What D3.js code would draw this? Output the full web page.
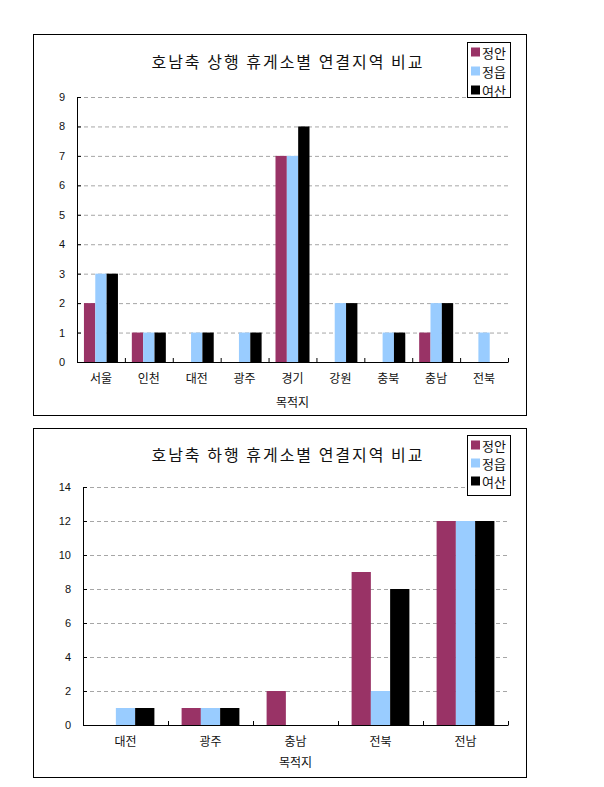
<!DOCTYPE html>
<html>
<head>
<meta charset="utf-8">
<script src="https://cdn.jsdelivr.net/npm/d3@7"></script>
<style>
  body { margin: 0; background: #fff; }
  svg { display: block; }
  text { font-family: "Noto Sans CJK KR", "Noto Sans", sans-serif; fill: #111; }
  .grid line { stroke: #a6a6a6; stroke-dasharray: 4,3; }
  .grid path { display: none; }
</style>
</head>
<body>
<svg id="chart" width="604" height="787"></svg>
<script>
// series names and colours
const seriesNames = ["정안", "정읍", "여산"];
const seriesColors = ["#993366", "#99ccff", "#000000"];

// 상행 (upper chart)
const upTitle = "호남축 상행 휴게소별 연결지역 비교";
const upCategories = ["서울", "인천", "대전", "광주", "경기", "강원", "충북", "충남", "전북"];
const upJeongan = [2, 1, 0, 0, 7, 0, 0, 1, 0];
const upJeongeup = [3, 1, 1, 1, 7, 2, 1, 2, 1];
const upYeosan = [3, 1, 1, 1, 8, 2, 1, 2, 0];
const upTicks = [0, 1, 2, 3, 4, 5, 6, 7, 8, 9];

// 하행 (lower chart)
const downTitle = "호남축 하행 휴게소별 연결지역 비교";
const downCategories = ["대전", "광주", "충남", "전북", "전남"];
const downJeongan = [0, 1, 2, 9, 12];
const downJeongeup = [1, 1, 0, 2, 12];
const downYeosan = [1, 1, 0, 8, 12];
const downTicks = [0, 2, 4, 6, 8, 10, 12, 14];

const xTitle = "목적지";

const svg = d3.select("#chart");

function drawChart(opt) {
  const g = svg.append("g");
  const box = opt.box;

  // frame
  g.append("rect")
    .attr("x", box.x + 0.5).attr("y", box.y + 0.5)
    .attr("width", box.w).attr("height", box.h)
    .attr("fill", "#fff").attr("stroke", "#000").attr("stroke-width", 1);

  const p = opt.plot;
  const rows = opt.categories.map((c, i) => ({
    cat: c,
    vals: opt.series.map((s, j) => ({ name: seriesNames[j], v: s[i] }))
  }));

  const x0 = d3.scaleBand()
    .domain(opt.categories)
    .range([p.left, p.right])
    .paddingInner(opt.pad)
    .paddingOuter(opt.pad / 2);
  const x1 = d3.scaleBand()
    .domain(seriesNames)
    .range([0, x0.bandwidth()]);
  const color = d3.scaleOrdinal().domain(seriesNames).range(seriesColors);
  const y = d3.scaleLinear()
    .domain([0, d3.max(opt.ticks)])
    .range([p.bottom, p.top]);

  // gridlines
  g.append("g")
    .attr("class", "grid")
    .attr("transform", "translate(" + p.left + ",0)")
    .call(d3.axisLeft(y).tickValues(opt.ticks.slice(1)).tickSize(-(p.right - p.left)).tickFormat(""));

  // bars
  g.append("g")
    .selectAll("g")
    .data(rows)
    .join("g")
    .attr("transform", d => "translate(" + x0(d.cat) + ",0)")
    .selectAll("rect")
    .data(d => d.vals)
    .join("rect")
    .attr("x", d => x1(d.name))
    .attr("y", d => y(d.v))
    .attr("width", x1.bandwidth())
    .attr("height", d => p.bottom - y(d.v))
    .attr("fill", d => color(d.name));

  // y axis
  const ya = g.append("g")
    .attr("transform", "translate(" + p.left + ",0)")
    .call(d3.axisLeft(y).tickValues(opt.ticks).tickSize(-4).tickSizeOuter(0).tickPadding(12));
  ya.selectAll("text").style("font-family", "Arial, 'Liberation Sans', sans-serif").attr("font-size", 11).attr("fill", "#111");
  ya.select(".domain").attr("stroke", "#000");

  // x axis
  const xa = g.append("g")
    .attr("transform", "translate(0," + p.bottom + ")")
    .call(d3.axisBottom(x0).tickSize(0).tickSizeOuter(0).tickPadding(12));
  xa.selectAll("text").attr("font-size", 12).attr("fill", "#111");
  xa.select(".domain").attr("stroke", "#000");

  // boundary ticks (inside)
  const step = x0.step();
  const bounds = d3.range(opt.categories.length + 1).map(i => p.left + i * step);
  g.append("g")
    .selectAll("line")
    .data(bounds)
    .join("line")
    .attr("x1", d => d + 0.5).attr("x2", d => d + 0.5)
    .attr("y1", p.bottom).attr("y2", p.bottom - 4)
    .attr("stroke", "#000");

  // axis title
  g.append("text")
    .attr("x", (p.left + p.right) / 2)
    .attr("y", opt.xTitleY)
    .attr("text-anchor", "middle")
    .attr("font-size", 12)
    .text(xTitle);

  // chart title
  g.append("text")
    .attr("x", opt.titleX)
    .attr("y", opt.titleY)
    .attr("text-anchor", "middle")
    .attr("dominant-baseline", "central")
    .attr("font-size", 16)
    .attr("letter-spacing", 2)
    .text(opt.title);

  // legend
  const lg = opt.legend;
  g.append("rect")
    .attr("x", lg.x + 0.5).attr("y", lg.y + 0.5)
    .attr("width", lg.w).attr("height", lg.h)
    .attr("fill", "#fff").attr("stroke", "#000");
  const items = g.append("g")
    .selectAll("g")
    .data(seriesNames)
    .join("g")
    .attr("transform", (d, i) => "translate(" + (lg.x + 4) + "," + (lg.y + lg.first + i * lg.gap) + ")");
  items.append("rect")
    .attr("x", 0).attr("y", -4.5)
    .attr("width", 9).attr("height", 9)
    .attr("fill", d => color(d));
  items.append("text")
    .attr("x", 11)
    .attr("dominant-baseline", "central")
    .attr("font-size", 13)
    .text(d => d);
}

drawChart({
  box: { x: 33, y: 34, w: 493, h: 381 },
  plot: { left: 77, right: 508, top: 97, bottom: 362 },
  categories: upCategories,
  series: [upJeongan, upJeongeup, upYeosan],
  ticks: upTicks,
  pad: 0.29,
  title: upTitle,
  titleX: 288, titleY: 61,
  xTitleY: 407,
  legend: { x: 467, y: 42, w: 43, h: 55, first: 10, gap: 19 }
});

drawChart({
  box: { x: 33, y: 428, w: 493, h: 349 },
  plot: { left: 83, right: 508, top: 487, bottom: 725 },
  categories: downCategories,
  series: [downJeongan, downJeongeup, downYeosan],
  ticks: downTicks,
  pad: 0.32,
  title: downTitle,
  titleX: 288, titleY: 454,
  xTitleY: 767,
  legend: { x: 467, y: 435, w: 43, h: 60, first: 10, gap: 18 }
});
</script>
</body>
</html>
